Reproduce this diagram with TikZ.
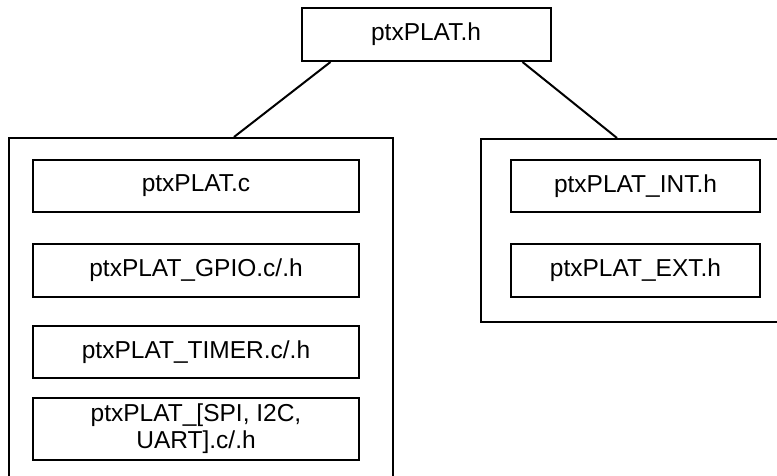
\documentclass[tikz,border=0pt]{standalone}
\usepackage{fontspec}
\setmainfont{Liberation Sans}
\begin{document}
\begin{tikzpicture}[x=1pt,y=-1pt,
  box/.style={draw=black,line width=2pt,rectangle,inner sep=0pt,
    font=\fontsize{24.5}{27}\selectfont,align=center},
  cont/.style={draw=black,line width=2pt,rectangle,inner sep=0pt},
  link/.style={draw=black,line width=2pt}]
\clip (0,0) rectangle (777,475);
\fill[white] (0,0) rectangle (777,475);
% containers
\node[cont,minimum width=384pt,minimum height=352pt] (leftc) at (201,314) {};
\node[cont,minimum width=320pt,minimum height=183pt] (rightc) at (641,230.5) {};
% top
\node[box,minimum width=249pt,minimum height=53pt] (top) at (426,34.5) {ptxPLAT.h};
% left inner
\node[box,minimum width=326pt,minimum height=52pt] (c) at (196,186) {ptxPLAT.c};
\node[box,minimum width=326pt,minimum height=53pt] (gpio) at (196,270.5) {ptxPLAT\_GPIO.c/.h};
\node[box,minimum width=326pt,minimum height=52pt] (timer) at (196,352) {ptxPLAT\_TIMER.c/.h};
\node[box,minimum width=326pt,minimum height=62pt] (spi) at (196,429) {ptxPLAT\_[SPI, I2C,\\UART].c/.h};
% right inner
\node[box,minimum width=249pt,minimum height=52pt] (int) at (635.5,186) {ptxPLAT\_INT.h};
\node[box,minimum width=249pt,minimum height=53pt] (ext) at (635.5,270.5) {ptxPLAT\_EXT.h};
% connectors
\coordinate (tl) at ([xshift=30pt]top.south west);
\coordinate (tr) at ([xshift=-29pt]top.south east);
\coordinate (lt) at ([xshift=226pt]leftc.north west);
\coordinate (rt) at ([xshift=137pt]rightc.north west);
\draw[link] (tl) -- (lt);
\draw[link] (tr) -- (rt);
\end{tikzpicture}
\end{document}
